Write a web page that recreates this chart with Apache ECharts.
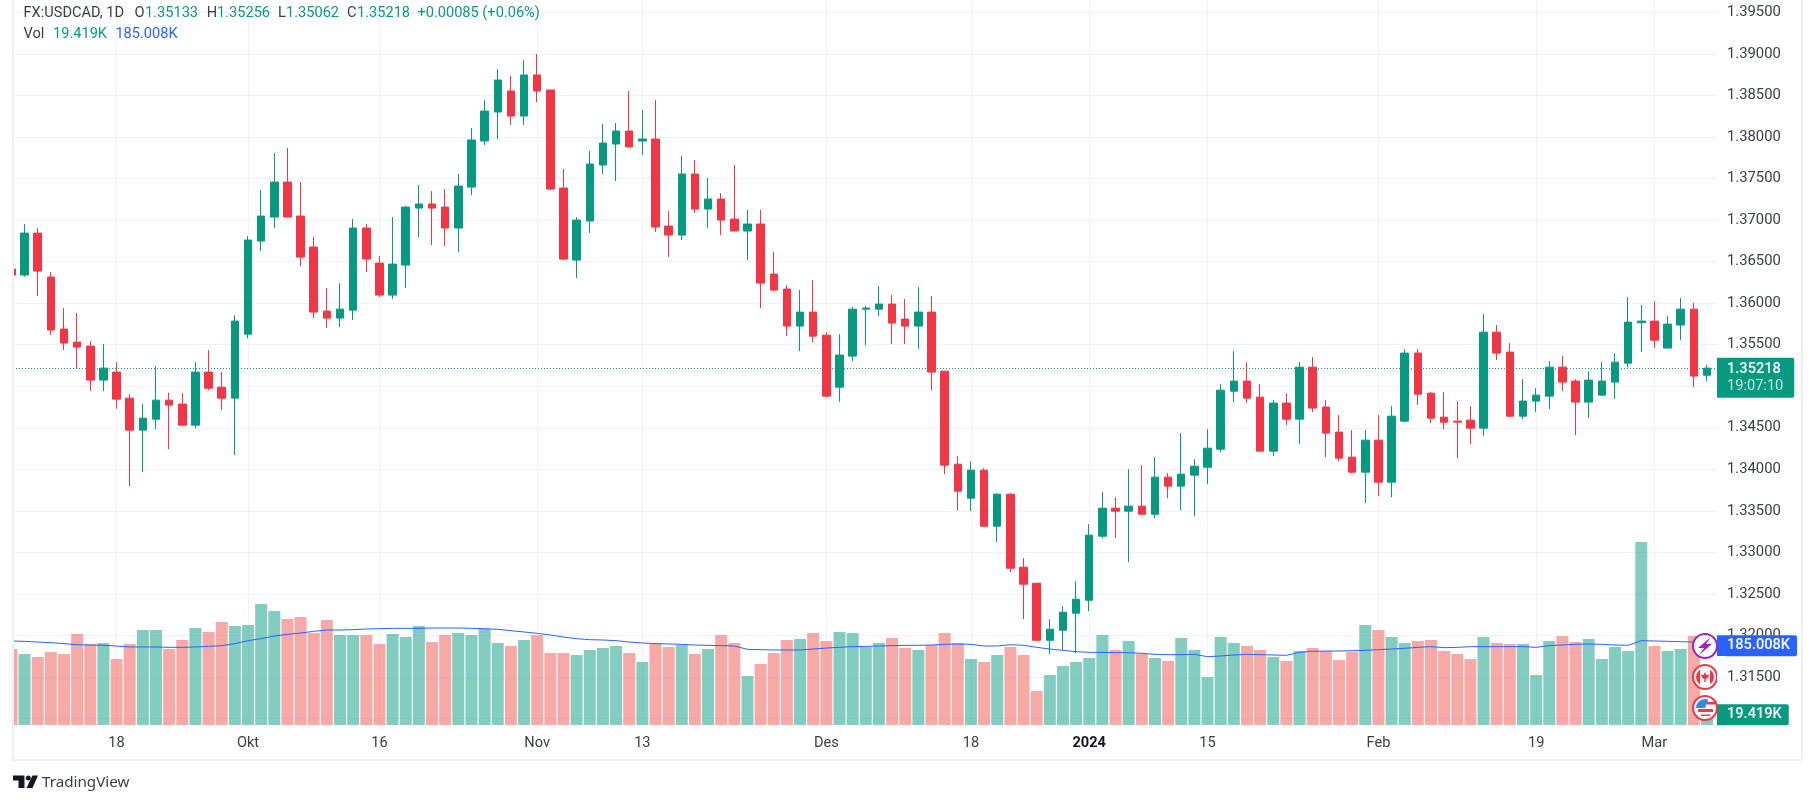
<!DOCTYPE html>
<html><head><meta charset="utf-8">
<style>html,body{margin:0;padding:0;background:#fff}#c{width:1815px;height:804px}</style>
<script src="https://cdn.jsdelivr.net/npm/echarts@6/dist/echarts.min.js"></script>
</head><body><div id="c"></div>
<script>
const opens=[1.36410,1.36338,1.36843,1.36314,1.35688,1.35531,1.35483,1.35074,1.35170,1.34857,
1.34472,1.34604,1.34833,1.34785,1.34532,1.35170,1.34989,1.34857,1.35627,1.36747,
1.37036,1.37457,1.37048,1.36675,1.35904,1.35820,1.35916,1.36904,1.36482,1.36097,
1.36458,1.37144,1.37193,1.37156,1.36904,1.37397,1.37951,1.38300,1.38553,1.38252,
1.38746,1.38565,1.37385,1.36518,1.36988,1.37662,1.37915,1.38071,1.37951,1.37975,
1.36928,1.36819,1.37554,1.37132,1.37253,1.37012,1.36868,1.36952,1.36350,1.36169,
1.35724,1.35892,1.35615,1.34989,1.35363,1.35928,1.35928,1.35989,1.35808,1.35724,
1.35892,1.35182,1.34062,1.33653,1.33990,1.33316,1.33701,1.32822,1.32630,1.31943,
1.32064,1.32269,1.32425,1.33196,1.33533,1.33497,1.33557,1.33460,1.33906,1.33798,
1.33930,1.34026,1.34243,1.34941,1.35062,1.34869,1.34219,1.34797,1.34604,1.35230,
1.34749,1.34448,1.34147,1.33966,1.34351,1.33846,1.34580,1.35399,1.34917,1.34628,
1.34580,1.34592,1.34496,1.35651,1.35411,1.34640,1.34821,1.34881,1.35230,1.35062,
1.34809,1.34893,1.35050,1.35278,1.35764,1.35784,1.35459,1.35736,1.35928,1.35133];
const closes=[1.36338,1.36843,1.36386,1.35676,1.35519,1.35471,1.35074,1.35218,1.34845,1.34472,
1.34616,1.34833,1.34773,1.34532,1.35170,1.34977,1.34857,1.35784,1.36759,1.37048,
1.37457,1.37036,1.36554,1.35892,1.35820,1.35928,1.36904,1.36530,1.36097,1.36470,
1.37156,1.37193,1.37144,1.36904,1.37409,1.37963,1.38312,1.38685,1.38252,1.38746,
1.38553,1.37373,1.36530,1.37000,1.37674,1.37927,1.38071,1.37879,1.37975,1.36916,
1.36819,1.37554,1.37132,1.37253,1.37000,1.36868,1.36952,1.36241,1.36157,1.35724,
1.35892,1.35603,1.34881,1.35375,1.35928,1.35941,1.35989,1.35760,1.35724,1.35892,
1.35170,1.34050,1.33737,1.33990,1.33316,1.33701,1.32810,1.32618,1.31943,1.32076,
1.32281,1.32437,1.33208,1.33533,1.33497,1.33557,1.33460,1.33906,1.33798,1.33942,
1.34038,1.34255,1.34953,1.35062,1.34857,1.34219,1.34797,1.34604,1.35230,1.34737,
1.34436,1.34135,1.33966,1.34351,1.33846,1.34640,1.35399,1.34905,1.34616,1.34568,
1.34568,1.34496,1.35651,1.35399,1.34640,1.34821,1.34893,1.35230,1.35050,1.34809,
1.35074,1.35062,1.35290,1.35772,1.35784,1.35555,1.35748,1.35928,1.35122,1.35218];
const highs=[1.36438,1.36952,1.36904,1.36374,1.35941,1.35880,1.35543,1.35507,1.35290,1.34905,
1.34785,1.35242,1.34921,1.34921,1.35290,1.35435,1.35170,1.35856,1.36807,1.37361,
1.37806,1.37867,1.37457,1.36795,1.36181,1.36241,1.37012,1.36952,1.36566,1.37036,
1.37168,1.37421,1.37349,1.37373,1.37554,1.38107,1.38445,1.38818,1.38734,1.38926,
1.38998,1.38565,1.37614,1.37036,1.37831,1.38156,1.38168,1.38553,1.38324,1.38445,
1.37108,1.37770,1.37722,1.37506,1.37325,1.37662,1.37120,1.37120,1.36615,1.36217,
1.36157,1.36278,1.35651,1.35627,1.35952,1.35965,1.36205,1.36097,1.36049,1.36193,
1.36085,1.35182,1.34159,1.34098,1.34014,1.33713,1.33713,1.32931,1.32630,1.32196,
1.32353,1.32654,1.33340,1.33725,1.33665,1.34002,1.34050,1.34147,1.33954,1.34436,
1.34123,1.34484,1.35026,1.35423,1.35290,1.35026,1.34833,1.34917,1.35290,1.35351,
1.34833,1.34652,1.34472,1.34472,1.34652,1.34761,1.35447,1.35447,1.34929,1.34929,
1.34821,1.34761,1.35868,1.35736,1.35519,1.35086,1.34977,1.35302,1.35363,1.35086,
1.35182,1.35290,1.35399,1.36073,1.35977,1.36025,1.35844,1.36061,1.36001,1.35256];
const lows=[1.36318,1.36318,1.36085,1.35615,1.35435,1.35218,1.34941,1.34941,1.34729,1.33798,
1.33966,1.34484,1.34243,1.34532,1.34496,1.34953,1.34712,1.34171,1.35579,1.36627,
1.36904,1.37036,1.36446,1.35820,1.35700,1.35712,1.35796,1.36374,1.36073,1.36049,
1.36181,1.36795,1.36699,1.36687,1.36615,1.37301,1.37903,1.37975,1.38144,1.38144,
1.38420,1.37361,1.36518,1.36302,1.36843,1.37554,1.37469,1.37879,1.37782,1.36855,
1.36554,1.36759,1.37084,1.36904,1.36819,1.36868,1.36518,1.35941,1.36145,1.35603,
1.35423,1.35531,1.34869,1.34813,1.35302,1.35495,1.35844,1.35507,1.35507,1.35447,
1.34953,1.33942,1.33509,1.33497,1.33316,1.33123,1.32762,1.32196,1.31943,1.31775,
1.31823,1.31787,1.32293,1.33172,1.33172,1.32883,1.33448,1.33412,1.33653,1.33509,
1.33436,1.33822,1.34207,1.34809,1.34797,1.34219,1.34159,1.34532,1.34303,1.34689,
1.34147,1.34098,1.33954,1.33593,1.33677,1.33665,1.34568,1.34773,1.34556,1.34484,
1.34135,1.34303,1.34400,1.35314,1.34628,1.34604,1.34689,1.34725,1.34941,1.34412,
1.34616,1.34893,1.34845,1.35230,1.35411,1.35459,1.35459,1.35555,1.34989,1.35062];
const volumes=[177.3,165.6,158.7,170.3,165.6,212.3,189,191.3,154,189,
221.6,221.6,177.3,198.3,226.3,217,240.3,231,233.3,282.3,
266,247.3,252,214.6,245,210,210,210,189,212.3,
205.3,231,193.6,210,214.6,210,224,191.3,184.3,198.3,
210,168,168,163.3,175,179.6,184.3,168,147,190.5,
182,186.6,165.6,177.3,210,191.3,114.3,142.3,168,198.3,
200.6,214.6,196,217,214.6,182,191.3,203,179.6,175,
186.6,214.6,191.3,154,147,163.3,182,163.3,79.3,116.6,
137.6,147,156.3,210,175,196,165.6,156.3,149.3,203,
175,112,205.3,191.3,184.3,175,158.7,149.3,172.6,179.6,
172.6,151.6,170.3,233.3,221.6,205.3,191.3,196,198.3,172.6,
165.6,154,205.3,191.3,189,189,116.6,196,207.6,193.6,
200.6,154,182,172.6,427,184.3,172.6,177.3,207.6,19.419];
const volumeMA=[196,195.2,193.6,192.1,189.8,187.4,186.6,185.9,184.3,182,
182,182,181.2,181.2,182,183.5,185.1,189.8,196.8,201.4,
207.6,211.5,214.6,218.5,221.6,221.6,222.4,224,224.8,225.5,
225.5,225.5,226.3,226.3,226.3,225.5,224.8,223.2,220.1,217,
213.9,210,205.3,201.4,199.1,198.3,196.8,193.6,191.3,189.8,
189,188.2,186.6,185.9,185.1,184.3,176.5,175.8,175,175,
175,177.3,179.6,181.2,182.8,183.5,184.3,185.1,185.9,185.9,
186.6,188.2,189,188.2,184.3,184.3,187.4,185.9,181.2,177.3,
174.2,171.1,169.5,169.5,168.8,168.8,167.2,164.9,164.1,164.1,
164.9,159.4,161,163.3,164.9,164.1,163.3,162.5,169.5,171.9,
172.6,172.6,173.4,174.2,175.8,177.3,178.9,181.2,182.8,180.4,
181.2,182.8,182.8,182.8,182.8,182.8,181.2,185.1,186.6,188.2,
189,188.2,186.6,185.9,196.8,196,195.2,194.4,193.6,185.008];
const tickIndexes=[8,18,28,40,48,62,73,82,91,104,116,125];
const tickLabels=['18','Okt','16','Nov','13','Des','18','2024','15','Feb','19','Mar'];
const lastPrice=1.35218, countdown='19:07:10', lastVol=19.419, lastVolMA=185.008;

const GREEN='#089981',RED='#F23645',BLUE='#2962FF',TXT='#3a3d45',GRID='#F1F2F5',FONT='Roboto, sans-serif';
const indexes=opens.map((_,i)=>i);
const xMin=0.12,xMax=129.76;

function txt(text,x,y,fill){return {type:'text',z:40,style:{text,x,y,fill,font:'14.6px '+FONT,textVerticalAlign:'middle'}};}
const headerParts=[['FX:USDCAD, 1D',23.5,TXT],['O',134.4,TXT],['1.35133',145,GREEN],['H',206.7,TXT],['1.35256',217,GREEN],['L',278,TXT],['1.35062',286,GREEN],['C',347,TXT],['1.35218',357,GREEN],['+0.00085 (+0.06%)',417.4,GREEN]];
const volParts=[['Vol',23.5,TXT],['19.419K',53,GREEN],['185.008K',115.4,BLUE]];
const cx=1705;
const flagUS={x:cx,y:708},flagCA={x:cx,y:677},bolt={x:cx,y:646};
const icons=[
 {type:'circle',z:20,shape:{cx:bolt.x,cy:bolt.y,r:12},style:{fill:'#fff',stroke:'#9C27B0',lineWidth:2}},
 {type:'polygon',z:21,shape:{points:[[cx+6,637],[cx-7,648],[cx-1,648],[cx-6,655],[cx+7,644],[cx+1,644]]},style:{fill:'#9C27B0'}},
 {type:'circle',z:20,shape:{cx,cy:flagCA.y,r:12},style:{fill:'#fff',stroke:'#F23645',lineWidth:2}},
 {type:'sector',z:21,shape:{cx,cy:flagCA.y,r:9,startAngle:Math.PI*0.62,endAngle:Math.PI*1.38},style:{fill:'#F23645'}},
 {type:'sector',z:21,shape:{cx,cy:flagCA.y,r:9,startAngle:-Math.PI*0.38,endAngle:Math.PI*0.38},style:{fill:'#F23645'}},
 {type:'rect',z:22,shape:{x:cx-5,y:668,width:10,height:18},style:{fill:'#fff'}},
 {type:'polygon',z:23,shape:{points:[[cx,672],[cx+1.5,675],[cx+4,674.5],[cx+3,678],[cx+0.7,679],[cx+0.7,682],[cx-0.7,682],[cx-0.7,679],[cx-3,678],[cx-4,674.5],[cx-1.5,675]]},style:{fill:'#F23645'}},
 {type:'circle',z:20,shape:{cx,cy:flagUS.y,r:12},style:{fill:'#fff',stroke:'#F23645',lineWidth:2}},
 {type:'sector',z:21,shape:{cx,cy:flagUS.y,r:9,startAngle:Math.PI*1.0,endAngle:Math.PI*1.62},style:{fill:'#3D86D8'}},
 {type:'rect',z:22,shape:{x:cx+2,y:702,width:8,height:2.5},style:{fill:'#F23645'}},
 {type:'rect',z:22,shape:{x:cx-7,y:709,width:15,height:3},style:{fill:'#F23645'}},
 {type:'rect',z:22,shape:{x:cx-4,y:714.5,width:9,height:1.5},style:{fill:'#F23645'}},
 {type:'rect',z:24,shape:{x:1717,y:656,width:9,height:48},style:{fill:'#fff'}}
];
const frame=[
 {type:'rect',z:25,shape:{x:0,y:0,width:12,height:761},style:{fill:'#fff'}},
 {type:'rect',z:26,shape:{x:12,y:0,width:2,height:761},style:{fill:'#EEEEF3'}},
 {type:'rect',z:1,shape:{x:12,y:759,width:1791,height:2},style:{fill:'#EEEEF3'}},
 {type:'rect',z:1,shape:{x:1801,y:0,width:2,height:761},style:{fill:'#EEEEF3'}}
];
const logo=[
 {type:'polygon',z:40,shape:{points:[[13,775.5],[24.5,775.5],[24.5,788],[18.5,788],[18.5,780.5],[13,780.5]]},style:{fill:'#131722'}},
 {type:'circle',z:40,shape:{cx:28.3,cy:778,r:2.5},style:{fill:'#131722'}},
 {type:'polygon',z:40,shape:{points:[[32.5,775.5],[38,775.5],[32.5,788],[26.5,788]]},style:{fill:'#131722'}},
 {type:'text',z:40,style:{text:'TradingView',x:42,y:783,fill:'#3a3d45',font:'15.2px "Noto Sans", sans-serif',textVerticalAlign:'middle'}}
];
const tagStyle=(bg)=>({position:'end',distance:0,color:'#fff',fontFamily:FONT,fontSize:14.6,fontWeight:500,backgroundColor:bg,padding:[3,7,3,10],borderRadius:[0,2,2,0]});

const chart=echarts.init(document.getElementById('c'),null,{renderer:'canvas',width:1815,height:804});
chart.setOption({
 animation:false,backgroundColor:'#fff',
 grid:[{left:13,width:1704,top:12.3,height:706.35},{left:13,width:1704,top:0,height:725}],
 xAxis:[
  {type:'value',gridIndex:0,min:xMin,max:xMax,show:false,splitLine:{show:false}},
  {type:'value',gridIndex:1,min:xMin,max:xMax,
   axisLine:{show:false},
   axisTick:{show:false,customValues:tickIndexes},
   splitLine:{show:true,lineStyle:{color:GRID,width:1}},
   axisLabel:{customValues:tickIndexes,margin:11,fontFamily:FONT,fontSize:14.6,color:TXT,showMinLabel:true,showMaxLabel:true,hideOverlap:false,
    formatter:v=>{const t=tickLabels[tickIndexes.indexOf(Math.round(v))];return t==='2024'?'{b|'+t+'}':t;},
    rich:{b:{fontWeight:'bold',fontFamily:FONT,fontSize:14.6,color:'#131722'}}}}
 ],
 yAxis:[
  {type:'value',gridIndex:0,position:'right',min:1.31,max:1.395,interval:0.005,
   axisLine:{show:false},axisTick:{show:false},
   splitLine:{show:true,lineStyle:{color:GRID,width:1}},
   axisLabel:{inside:false,margin:10,padding:[2,0,0,0],fontFamily:FONT,fontSize:14.8,color:TXT,formatter:v=>v.toFixed(5)}},
  {type:'value',gridIndex:1,min:0,max:1691.6,show:false,splitLine:{show:false}}
 ],
 series:[
  {type:'bar',name:'Vol',xAxisIndex:1,yAxisIndex:1,z:3,barWidth:12,
   data:volumes.map((v,i)=>({value:[i,v],itemStyle:{color:closes[i]>=opens[i]?'rgba(8,153,129,0.5)':'rgba(239,83,80,0.5)'}}))},
  {type:'line',name:'Vol MA',xAxisIndex:1,yAxisIndex:1,z:5,showSymbol:false,symbol:'none',
   lineStyle:{color:BLUE,width:1},data:volumeMA.map((v,i)=>[i,v])},
  {type:'candlestick',name:'FX:USDCAD',xAxisIndex:0,yAxisIndex:0,z:8,barWidth:8,
   encode:{x:0,y:[1,2,3,4]},
   itemStyle:{color:GREEN,color0:RED,borderColor:GREEN,borderColor0:RED,borderWidth:1},
   data:indexes.map(i=>[i,opens[i],closes[i],lows[i],highs[i]])},
  {type:'line',name:'last price',xAxisIndex:0,yAxisIndex:0,z:9,showSymbol:false,symbol:'none',lineStyle:{color:'rgba(0,0,0,0)'},data:[[129,lastPrice]],
   markLine:{silent:true,symbol:['none','none'],animation:false,precision:5,
    lineStyle:{color:GREEN,type:[1,2],width:1},
    label:{position:'end',distance:0,offset:[0,9.5],formatter:'{a|'+lastPrice.toFixed(5)+'}\n{b|'+countdown+'}',
     backgroundColor:GREEN,padding:[3,11,3,10],borderRadius:[0,2,2,0],
     rich:{a:{color:'#fff',fontFamily:FONT,fontSize:14.6,fontWeight:500,lineHeight:17},b:{color:'#C5E6E0',fontFamily:FONT,fontSize:14.6,lineHeight:17}}},
    data:[{yAxis:lastPrice}]}},
  {type:'line',name:'tags',xAxisIndex:1,yAxisIndex:1,z:30,showSymbol:false,symbol:'none',lineStyle:{color:'rgba(0,0,0,0)'},data:[[129,lastVolMA]],
   markLine:{silent:true,symbol:['none','none'],animation:false,precision:3,
    lineStyle:{color:'rgba(0,0,0,0)',width:1},
    data:[
     {yAxis:lastVolMA,label:Object.assign(tagStyle(BLUE),{formatter:lastVolMA.toFixed(3)+'K'})},
     {yAxis:lastVol,label:Object.assign(tagStyle(GREEN),{offset:[0,-2],formatter:lastVol.toFixed(3)+'K'})}
    ]}}
 ],
 graphic:{elements:[].concat(frame,
  headerParts.map(p=>txt(p[0],p[1],13.5,p[2])),
  volParts.map(p=>txt(p[0],p[1],34,p[2])),
  icons,logo)}
});
</script></body></html>
